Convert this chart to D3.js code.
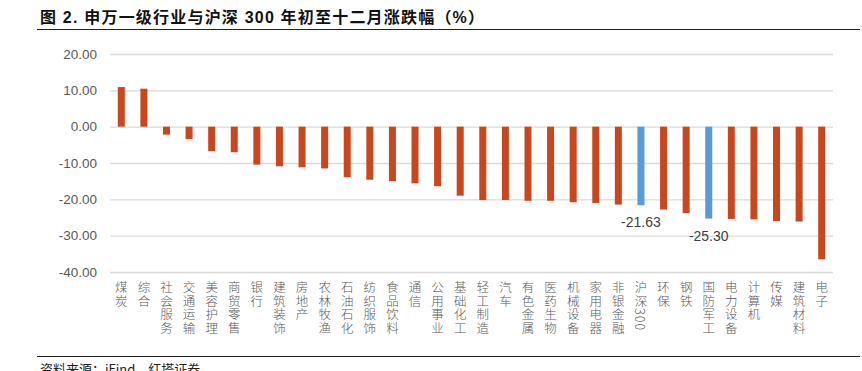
<!DOCTYPE html>
<html lang="zh">
<head>
    <meta charset="UTF-8">
    <title>申万一级行业与沪深300年初至十二月涨跌幅</title>
    <script src="https://cdn.jsdelivr.net/npm/d3@7/dist/d3.min.js"></script>
    <style>
        body {
            margin: 0;
            background-color: #ffffff;
        }
        svg {
            display: block;
        }
    </style>
</head>
<body>

    <svg width="862" height="371"></svg>

    <script>
        // Data
        var industries = ["煤炭", "综合", "社会服务", "交通运输", "美容护理", "商贸零售", "银行", "建筑装饰",
                          "房地产", "农林牧渔", "石油石化", "纺织服饰", "食品饮料", "通信", "公用事业", "基础化工",
                          "轻工制造", "汽车", "有色金属", "医药生物", "机械设备", "家用电器", "非银金融", "沪深300",
                          "环保", "钢铁", "国防军工", "电力设备", "计算机", "传媒", "建筑材料", "电子"];
        var changes = [10.9, 10.45, -2.2, -3.4, -6.7, -7.05, -10.45, -10.9,
                       -11.2, -11.5, -13.9, -14.6, -15.0, -15.6, -16.4, -19.0,
                       -20.2, -20.2, -20.4, -20.4, -20.8, -21.0, -21.45, -21.63,
                       -22.8, -23.8, -25.30, -25.4, -25.5, -26.0, -26.1, -36.5];
        var highlighted = ["沪深300", "国防军工"];
        var yTicks = [20, 10, 0, -10, -20, -30, -40];

        var svg = d3.select("svg");

        // plain hyphen minus like the original
        var fmt = function(d) { return d.toFixed(2); };

        // Title and rules
        svg.append("text")
            .attr("x", 40)
            .attr("y", 23)
            .attr("font-family", "'Liberation Sans', 'Noto Sans CJK SC', sans-serif")
            .attr("font-weight", "bold")
            .attr("font-size", 16)
            .attr("letter-spacing", 1.2)
            .attr("fill", "#111")
            .text("图 2. 申万一级行业与沪深 300 年初至十二月涨跌幅（%）");

        svg.append("line")
            .attr("x1", 37).attr("x2", 860)
            .attr("y1", 29.5).attr("y2", 29.5)
            .attr("stroke", "#222").attr("stroke-width", 1.2);

        svg.append("line")
            .attr("x1", 37).attr("x2", 860)
            .attr("y1", 356.5).attr("y2", 356.5)
            .attr("stroke", "#222").attr("stroke-width", 1.2);

        svg.append("text")
            .attr("x", 40)
            .attr("y", 374)
            .attr("font-family", "'Noto Sans CJK SC', 'Liberation Sans', sans-serif")
            .attr("font-size", 13)
            .attr("fill", "#222")
            .text("资料来源：iFind，红塔证券");

        // Scales
        var x = d3.scaleBand()
                  .domain(industries)
                  .range([110, 833])
                  .paddingInner(0.69)
                  .paddingOuter(0.345);

        var y = d3.scaleLinear()
                  .domain([-40, 20])
                  .range([272, 54]);

        // Y axis with gridlines
        var yAxis = svg.append("g")
            .attr("transform", "translate(110,0)")
            .call(d3.axisLeft(y).tickValues(yTicks).tickSize(-723).tickPadding(13)
                    .tickFormat(fmt));

        yAxis.select(".domain").remove();
        yAxis.selectAll(".tick line")
            .attr("stroke", "#d9d9d9")
            .attr("stroke-width", 1.3);
        yAxis.selectAll(".tick text")
            .attr("font-family", "'Liberation Sans', Arial, sans-serif")
            .attr("font-size", 13.5)
            .attr("fill", "#595959");

        // Bars
        svg.selectAll("rect.bar")
            .data(changes)
            .enter()
            .append("rect")
            .attr("class", "bar")
            .attr("x", function(d, i) { return x(industries[i]); })
            .attr("width", x.bandwidth())
            .attr("y", function(d) { return y(Math.max(0, d)); })
            .attr("height", function(d) { return Math.abs(y(d) - y(0)); })
            .attr("fill", function(d, i) {
                return highlighted.indexOf(industries[i]) >= 0 ? "#5b9bd5" : "#c9471f";
            });

        // Value labels on highlighted bars
        svg.selectAll("text.value")
            .data(highlighted)
            .enter()
            .append("text")
            .attr("class", "value")
            .attr("x", function(d) { return x(d) + x.bandwidth() / 2; })
            .attr("y", function(d) { return y(changes[industries.indexOf(d)]) + 22; })
            .attr("text-anchor", "middle")
            .attr("font-family", "'Liberation Sans', Arial, sans-serif")
            .attr("font-size", 14)
            .attr("fill", "#404040")
            .text(function(d) { return fmt(changes[industries.indexOf(d)]); });

        // Vertical category labels
        svg.selectAll("text.cat")
            .data(industries)
            .enter()
            .append("text")
            .attr("class", "cat")
            .attr("x", function(d) { return x(d) + x.bandwidth() / 2; })
            .attr("y", 281)
            .style("writing-mode", "vertical-rl")
            .attr("font-family", "'Noto Sans CJK SC', sans-serif")
            .attr("font-size", 12.5)
            .attr("font-weight", 300)
            .attr("letter-spacing", 1)
            .attr("fill", "#595959")
            .text(function(d) { return d; });
    </script>

</body>
</html>
